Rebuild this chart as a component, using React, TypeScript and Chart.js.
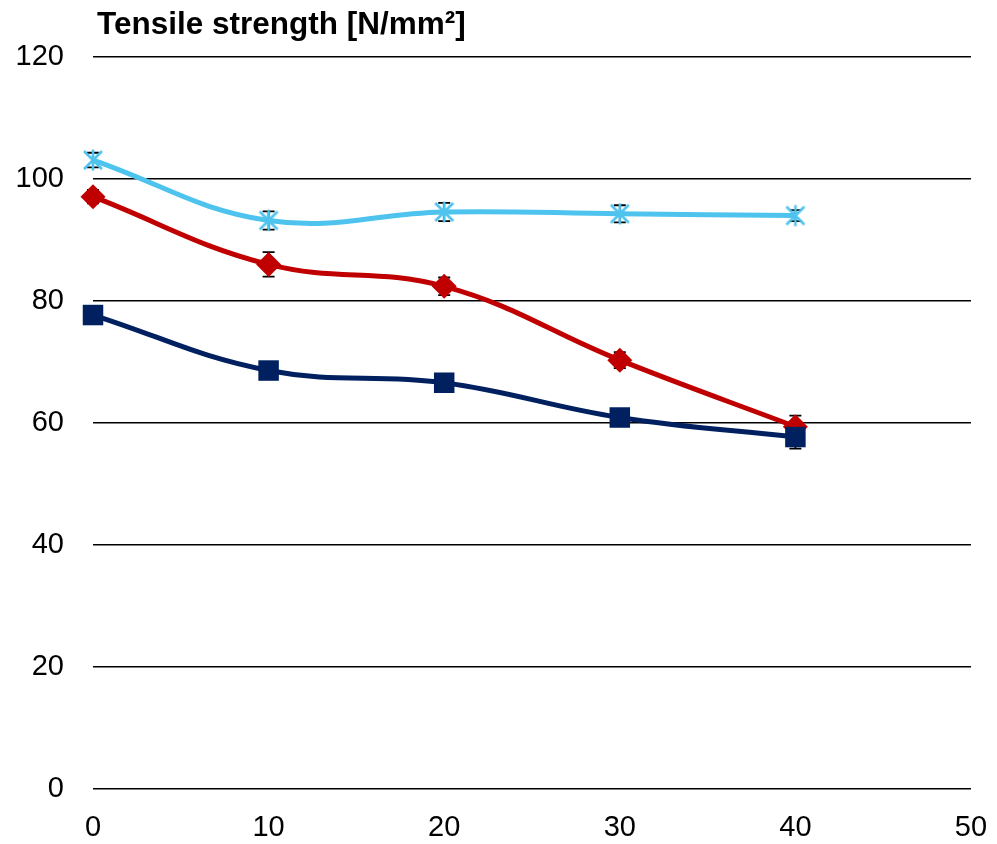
import React, { useEffect, useRef } from "react";
import { Chart, registerables } from "chart.js";

Chart.register(...registerables);

const xValues = [0, 10, 20, 30, 40];
const seriesNavy = [77.7, 68.6, 66.6, 60.9, 57.7];
const errNavy = [1.0, 1.0, 1.0, 1.0, 1.9];
const seriesRed = [97.1, 86.0, 82.4, 70.3, 59.4];
const errRed = [1.1, 2.0, 1.45, 1.3, 1.8];
const seriesBlue = [103.1, 93.2, 94.6, 94.3, 94.0];
const errBlue = [1.2, 1.5, 1.5, 1.4, 0.9];
const yTicks = [0, 20, 40, 60, 80, 100, 120];
const xTicks = [0, 10, 20, 30, 40, 50];
const titleText = "Tensile strength [N/mm²]";

const NAVY = "#002060";
const RED = "#C00000";
const BLUE = "#4EC3EE";

function makeStar(): HTMLCanvasElement {
  const c = document.createElement("canvas");
  c.width = 24;
  c.height = 24;
  const g = c.getContext("2d")!;
  g.strokeStyle = BLUE;
  g.lineWidth = 2.6;
  g.lineCap = "butt";
  g.beginPath();
  g.moveTo(3, 3);
  g.lineTo(21, 21);
  g.moveTo(21, 3);
  g.lineTo(3, 21);
  g.moveTo(12, 1.5);
  g.lineTo(12, 22.5);
  g.stroke();
  return c;
}

export default function App() {
  const ref = useRef<HTMLCanvasElement>(null);
  useEffect(() => {
    document.body.style.margin = "0";
    const star = makeStar();
    const toPts = (ys: number[]) => xValues.map((x, i) => ({ x, y: ys[i] }));
    const errs = [errNavy, errRed, errBlue];

    const errorBars = {
      id: "errorBars",
      beforeDatasetsDraw(chart: any) {
        const ctx = chart.ctx;
        const xs = chart.scales.x;
        const ys = chart.scales.y;
        ctx.save();
        ctx.strokeStyle = "#000";
        ctx.lineWidth = 1.8;
        chart.data.datasets.forEach((ds: any, di: number) => {
          ds.data.forEach((p: any, i: number) => {
            const e = errs[di][i];
            const px = xs.getPixelForValue(p.x);
            const top = ys.getPixelForValue(p.y + e);
            const bot = ys.getPixelForValue(p.y - e);
            ctx.beginPath();
            ctx.moveTo(px, top);
            ctx.lineTo(px, bot);
            ctx.moveTo(px - 6, top);
            ctx.lineTo(px + 6, top);
            ctx.moveTo(px - 6, bot);
            ctx.lineTo(px + 6, bot);
            ctx.stroke();
          });
        });
        ctx.restore();
      },
    };

    const titlePlugin = {
      id: "leftTitle",
      afterDraw(chart: any) {
        const ctx = chart.ctx;
        ctx.save();
        ctx.fillStyle = "#000";
        ctx.font = "bold 31.5px 'Liberation Sans', Arial, sans-serif";
        ctx.textAlign = "left";
        ctx.textBaseline = "alphabetic";
        ctx.fillText(titleText, 97, 34);
        ctx.restore();
      },
    };

    const common = {
      showLine: true,
      borderWidth: 5,
      tension: 0.4,
      clip: false as any,
      pointBorderWidth: 0,
    };

    const chart = new Chart(ref.current!, {
      type: "scatter",
      data: {
        datasets: [
          {
            ...common,
            label: "A",
            data: toPts(seriesNavy),
            borderColor: NAVY,
            backgroundColor: NAVY,
            pointStyle: "rect",
            pointRadius: 14.5,
            pointBackgroundColor: NAVY,
          },
          {
            ...common,
            label: "B",
            data: toPts(seriesRed),
            borderColor: RED,
            backgroundColor: RED,
            pointStyle: "rectRot",
            pointRadius: 12.5,
            pointBackgroundColor: RED,
          },
          {
            ...common,
            label: "C",
            data: toPts(seriesBlue),
            borderColor: BLUE,
            backgroundColor: BLUE,
            pointStyle: star as any,
            pointRadius: 12,
          },
        ],
      },
      options: {
        animation: false,
        responsive: false,
        maintainAspectRatio: false,
        layout: { autoPadding: false, padding: { top: 57, right: 26, left: 0, bottom: 0 } },
        plugins: {
          legend: { display: false },
          title: { display: false },
          tooltip: { enabled: false },
        },
        scales: {
          x: {
            type: "linear",
            min: 0,
            max: 50,
            afterBuildTicks: (s: any) => {
              s.ticks = xTicks.map((v) => ({ value: v }));
            },
            afterFit: (s: any) => {
              s.height = 55;
              s.paddingLeft = 0;
              s.paddingRight = 0;
            },
            grid: { display: false, drawTicks: false },
            border: { display: false },
            ticks: {
              color: "#000",
              padding: 22,
              maxRotation: 0,
              font: { family: "'Liberation Sans', Arial, sans-serif", size: 29 },
            },
          },
          y: {
            type: "linear",
            min: 0,
            max: 120,
            afterBuildTicks: (s: any) => {
              s.ticks = yTicks.map((v) => ({ value: v }));
            },
            afterFit: (s: any) => {
              s.width = 93;
              s.paddingTop = 0;
              s.paddingBottom = 0;
            },
            grid: { color: "#000", lineWidth: 1.6, drawTicks: false },
            border: { display: false },
            ticks: {
              color: "#000",
              padding: 29,
              font: { family: "'Liberation Sans', Arial, sans-serif", size: 29 },
            },
          },
        },
      },
      plugins: [errorBars, titlePlugin],
    });
    return () => chart.destroy();
  }, []);

  return (
    <div style={{ width: 997, height: 844 }}>
      <canvas ref={ref} width={997} height={844} style={{ display: "block" }} />
    </div>
  );
}
